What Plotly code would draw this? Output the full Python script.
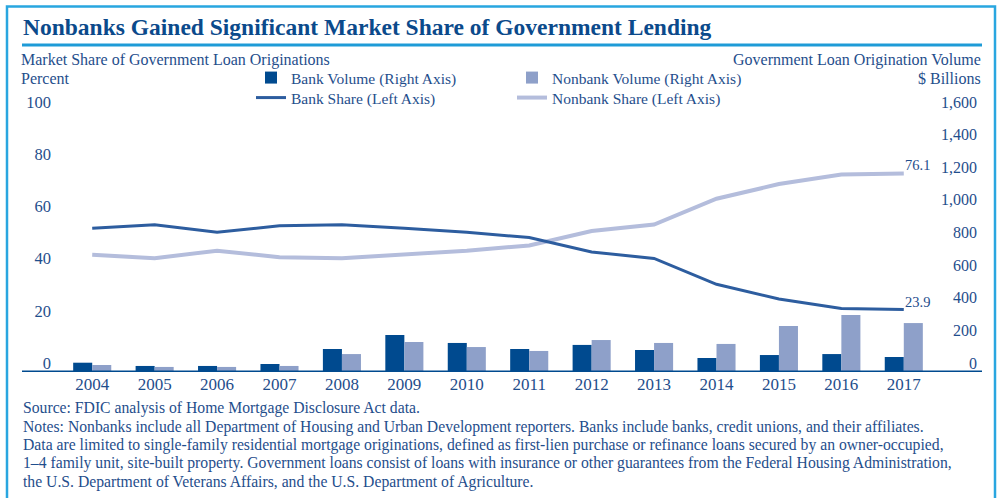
import plotly.graph_objects as go

years = ["2004", "2005", "2006", "2007", "2008", "2009", "2010",
         "2011", "2012", "2013", "2014", "2015", "2016", "2017"]
bank_volume = [57, 37, 37, 49, 141, 227, 178, 141, 166, 135, 86, 104, 110, 92]
nonbank_volume = [43, 31, 31, 37, 110, 184, 153, 129, 196, 178, 172, 282, 350, 300]
bank_share = [55.1, 56.4, 53.5, 56.0, 56.4, 55.1, 53.5, 51.5, 46.0, 43.5, 33.6, 28.0, 24.3, 23.9]
nonbank_share = [44.9, 43.6, 46.5, 44.0, 43.6, 44.9, 46.5, 48.5, 54.0, 56.5, 66.4, 72.0, 75.7, 76.1]
left_ticks = [0, 20, 40, 60, 80, 100]
right_ticks = [0, 200, 400, 600, 800, 1000, 1200, 1400, 1600]
right_tick_text = ["0", "200", "400", "600", "800", "1,000", "1,200", "1,400", "1,600"]

FONT = "Liberation Serif"
TXT = "#1f4e8c"
DARK = "#004a8f"
LIGHT_BAR = "#8ea0c9"
BANK_LINE = "#2d5d9f"
NONBANK_LINE = "#b4bddc"
FRAME = "#29a6e0"

W, H = 999, 498
L, R, T, B = 22, 17, 85, 126
PW = W - L - R
PH = H - T - B
BASE_Y = H - B          # pixel row of value 0
TOP100_Y = 111          # pixel row of 100 % / 1,600
scale = (BASE_Y - T) / (BASE_Y - TOP100_Y)


def px(x):
    return (x - L) / PW


def py(y):
    return (BASE_Y - y) / PH


fig = go.Figure()
fig.add_trace(go.Bar(x=years, y=bank_volume, name="Bank Volume (Right Axis)",
                     marker=dict(color=DARK, line=dict(width=0)), yaxis="y", legend="legend"))
fig.add_trace(go.Bar(x=years, y=nonbank_volume, name="Nonbank Volume (Right Axis)",
                     marker=dict(color=LIGHT_BAR, line=dict(width=0)), yaxis="y", legend="legend2"))
fig.add_trace(go.Scatter(x=years, y=nonbank_share, name="Nonbank Share (Left Axis)", mode="lines",
                         line=dict(color=NONBANK_LINE, width=4), yaxis="y2", legend="legend4"))
fig.add_trace(go.Scatter(x=years, y=bank_share, name="Bank Share (Left Axis)", mode="lines",
                         line=dict(color=BANK_LINE, width=3), yaxis="y2", legend="legend3"))


def leg(xpix, ypix):
    return dict(x=px(xpix), y=py(ypix), xanchor="left", yanchor="middle",
                orientation="v", bgcolor="rgba(0,0,0,0)", borderwidth=0,
                font=dict(size=15.5, color=TXT), itemwidth=30)


fig.update_layout(
    width=W, height=H, autosize=False,
    margin=dict(l=L, r=R, t=T, b=B, pad=0),
    paper_bgcolor="white", plot_bgcolor="white",
    font=dict(family=FONT, color=TXT, size=16),
    barmode="group", bargap=0.39, bargroupgap=0,
    hovermode=False,
    xaxis=dict(domain=[px(61), px(935)], range=[-0.5, 13.5], type="category",
               showgrid=False, showline=False, zeroline=False, ticks="",
               tickfont=dict(size=17, color=TXT), fixedrange=True),
    yaxis=dict(range=[0, 1600 * scale], side="right", anchor="free", position=1.0,
               tickvals=right_ticks, ticktext=right_tick_text,
               ticklabelposition="inside", ticklabelshift=-9, ticklabelstandoff=2,
               showgrid=False, showline=False, zeroline=False, ticks="",
               tickfont=dict(size=16, color=TXT)),
    yaxis2=dict(range=[0, 100 * scale], overlaying="y", side="left", anchor="x",
                tickvals=left_ticks, ticklabelshift=-9, ticklabelstandoff=9,
                showgrid=False, showline=False, zeroline=False, ticks="",
                tickfont=dict(size=16.5, color=TXT)),
    legend=leg(251, 78),
    legend2=leg(512, 78),
    legend3=leg(251, 98),
    legend4=leg(512, 98),
    showlegend=True,
)

shapes = [
    dict(type="rect", xref="paper", yref="paper", x0=px(7), x1=px(995), y0=py(520), y1=py(6.5),
         line=dict(color=FRAME, width=2.5), fillcolor="rgba(0,0,0,0)", layer="below"),
    dict(type="line", xref="paper", yref="paper", x0=px(22), x1=px(982), y0=py(45), y1=py(45),
         line=dict(color="#1e9bd7", width=3)),
    dict(type="line", xref="paper", yref="y", x0=px(22), x1=px(982), y0=0, y1=0,
         line=dict(color=DARK, width=3)),
]
fig.update_layout(shapes=shapes)

notes = [
    "Source: FDIC analysis of Home Mortgage Disclosure Act data.",
    "Notes: Nonbanks include all Department of Housing and Urban Development reporters. Banks include banks, credit unions, and their affiliates.",
    "Data are limited to single-family residential mortgage originations, defined as first-lien purchase or refinance loans secured by an owner-occupied,",
    "1\u20134 family unit, site-built property. Government loans consist of loans with insurance or other guarantees from the Federal Housing Administration,",
    "the U.S. Department of Veterans Affairs, and the U.S. Department of Agriculture.",
]
note_y = [408, 426.5, 444.5, 463, 481.5]

ann = [
    dict(text="<b>Nonbanks Gained Significant Market Share of Government Lending</b>",
         x=px(21), y=py(27), xref="paper", yref="paper", xanchor="left", yanchor="middle",
         showarrow=False, font=dict(size=23.5, color="#0b4a8b")),
    dict(text="Market Share of Government Loan Originations", x=px(19), y=py(60),
         xref="paper", yref="paper", xanchor="left", yanchor="middle", showarrow=False,
         font=dict(size=16)),
    dict(text="Percent", x=px(19), y=py(79), xref="paper", yref="paper", xanchor="left",
         yanchor="middle", showarrow=False, font=dict(size=16)),
    dict(text="Government Loan Origination Volume", x=px(983), y=py(60), xref="paper",
         yref="paper", xanchor="right", yanchor="middle", showarrow=False, font=dict(size=16)),
    dict(text="$ Billions", x=px(983), y=py(79), xref="paper", yref="paper", xanchor="right",
         yanchor="middle", showarrow=False, font=dict(size=16)),
    dict(text=f"{nonbank_share[-1]:.1f}", x=len(years) - 1, y=nonbank_share[-1], xref="x", yref="y2",
         xanchor="left", yanchor="bottom", xshift=-1, yshift=-2, showarrow=False,
         font=dict(size=14.5)),
    dict(text=f"{bank_share[-1]:.1f}", x=len(years) - 1, y=bank_share[-1], xref="x", yref="y2",
         xanchor="left", yanchor="bottom", xshift=-1, yshift=-2, showarrow=False,
         font=dict(size=14.5)),
]
for t, yy in zip(notes, note_y):
    ann.append(dict(text=t, x=px(21), y=py(yy), xref="paper", yref="paper", xanchor="left",
                    yanchor="middle", showarrow=False, font=dict(size=15.7)))
fig.update_layout(annotations=ann)

fig.write_html("out.html", post_script="document.body.style.margin='0';",
               config={"displayModeBar": False, "staticPlot": True})
